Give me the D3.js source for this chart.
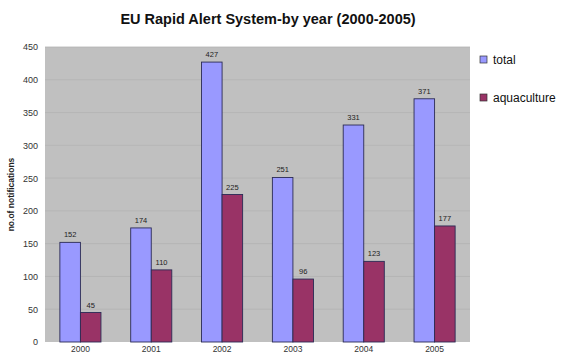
<!DOCTYPE html>
<html>
<head>
<meta charset="utf-8">
<script src="https://d3js.org/d3.v7.min.js"></script>
<style>
  body { margin: 0; background: #fff; }
  text { font-family: "Liberation Sans", Arial, sans-serif; }
</style>
</head>
<body>
<svg width="566" height="356"></svg>
<script>
var years = ["2000", "2001", "2002", "2003", "2004", "2005"];
var total = [152, 174, 427, 251, 331, 371];
var aquaculture = [45, 110, 225, 96, 123, 177];
var seriesNames = ["total", "aquaculture"];
var seriesColors = ["#9999ff", "#993366"];
var yTicks = [0, 50, 100, 150, 200, 250, 300, 350, 400, 450];

var svg = d3.select("svg");
var margin = {left: 45, top: 47, right: 96, bottom: 14};
var width = 566 - margin.left - margin.right,
    height = 356 - margin.top - margin.bottom;

var x = d3.scaleBand().domain(years).range([0, width]).paddingInner(0.42).paddingOuter(0.21);
var xs = d3.scaleBand().domain(seriesNames).range([0, x.bandwidth()]);
var y = d3.scaleLinear().domain([0, 450]).range([height, 0]);

svg.append("text")
    .attr("x", 268).attr("y", 24)
    .attr("text-anchor", "middle")
    .attr("font-size", 14.5).attr("font-weight", "bold")
    .attr("fill", "#111")
    .text("EU Rapid Alert System-by year (2000-2005)");

var g = svg.append("g").attr("transform", "translate(" + margin.left + "," + margin.top + ")");

g.append("rect").attr("width", width).attr("height", height).attr("fill", "#c0c0c0");

g.selectAll(".grid").data(yTicks.slice(1)).enter().append("line")
    .attr("x1", 0).attr("x2", width)
    .attr("y1", function(d) { return y(d); }).attr("y2", function(d) { return y(d); })
    .attr("stroke", "#b3b3b3").attr("stroke-width", 0.8);

var yAxis = g.append("g").call(d3.axisLeft(y).tickValues(yTicks).tickSize(0).tickPadding(7));
yAxis.select(".domain").remove();
yAxis.selectAll("text").attr("font-size", 9).attr("fill", "#333")
    .style("font-family", "Liberation Sans, Arial, sans-serif");

var xAxis = g.append("g").attr("transform", "translate(0," + height + ")")
    .call(d3.axisBottom(x).tickSize(0).tickPadding(4));
xAxis.select(".domain").remove();
xAxis.selectAll("text").attr("font-size", 8.5).attr("fill", "#333")
    .style("font-family", "Liberation Sans, Arial, sans-serif");

var rows = years.map(function(yr, i) { return {year: yr, values: [total[i], aquaculture[i]]}; });

var grp = g.selectAll(".grp").data(rows).enter().append("g")
    .attr("transform", function(d) { return "translate(" + x(d.year) + ",0)"; });

grp.selectAll("rect").data(function(d) {
    return d.values.map(function(v, j) { return {name: seriesNames[j], value: v, color: seriesColors[j]}; });
  }).enter().append("rect")
    .attr("x", function(d) { return xs(d.name); })
    .attr("width", xs.bandwidth())
    .attr("y", function(d) { return y(d.value); })
    .attr("height", function(d) { return height - y(d.value); })
    .attr("fill", function(d) { return d.color; })
    .attr("stroke", "#2b2b55").attr("stroke-width", 0.9);

grp.selectAll(".val").data(function(d) {
    return d.values.map(function(v, j) { return {name: seriesNames[j], value: v}; });
  }).enter().append("text")
    .attr("x", function(d) { return xs(d.name) + xs.bandwidth() / 2; })
    .attr("y", function(d) { return y(d.value) - 5; })
    .attr("text-anchor", "middle")
    .attr("font-size", 7.5).attr("fill", "#222")
    .text(function(d) { return d.value; });

svg.append("text")
    .attr("transform", "translate(14," + (margin.top + height / 2) + ") rotate(-90)")
    .attr("text-anchor", "middle")
    .attr("font-size", 8.5).attr("font-weight", "bold").attr("fill", "#222")
    .text("no.of notifications");

var legend = svg.append("g").attr("transform", "translate(480,56)");
var li = legend.selectAll("g").data(seriesNames).enter().append("g")
    .attr("transform", function(d, i) { return "translate(0," + (i * 38) + ")"; });
li.append("rect").attr("width", 7).attr("height", 7)
    .attr("fill", function(d, i) { return seriesColors[i]; })
    .attr("stroke", "#333").attr("stroke-width", 0.7);
li.append("text").attr("x", 13).attr("y", 7.5)
    .attr("font-size", 12).attr("fill", "#111")
    .text(function(d) { return d; });
</script>
</body>
</html>
